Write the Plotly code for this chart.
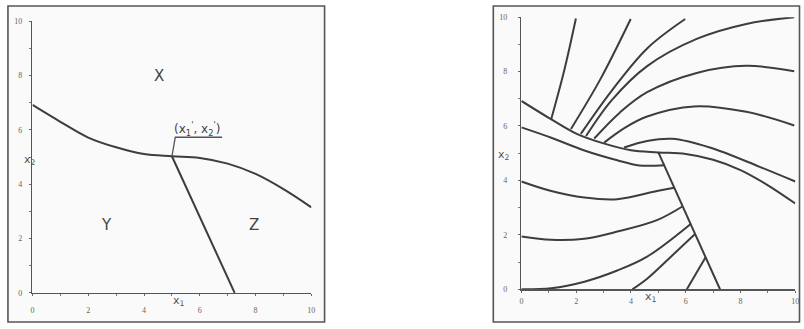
import plotly.graph_objects as go

# ---------------- data ----------------
# separating curve between region X and regions Y/Z
boundary_x = [0, 1, 2, 3, 4, 5, 6, 7, 8, 9, 10]
boundary_y = [6.92, 6.30, 5.72, 5.36, 5.11, 5.03, 4.97, 4.76, 4.38, 3.82, 3.15]
# boundary between Y and Z
zline_x = [5.0, 7.25]
zline_y = [5.03, 0.0]

# trajectories (right panel), region X
t1_x = [1.09, 1.57, 1.99];                    t1_y = [6.26, 8.07, 9.95]
t2_x = [1.81, 2.9, 3.99];                     t2_y = [5.89, 7.75, 9.93]
t3_x = [2.17, 3.3, 4.59, 5.98];               t3_y = [5.71, 7.3, 8.85, 9.93]
t4_x = [2.36, 3.3, 4.59, 6.4, 8.21, 9.96];    t4_y = [5.63, 6.95, 8.2, 9.2, 9.75, 10.0]
t5_x = [2.66, 3.6, 4.59, 6.4, 8.21, 9.96];    t5_y = [5.54, 6.5, 7.24, 7.95, 8.21, 8.01]
t6_x = [3.02, 3.8, 4.59, 6.3, 8.21, 9.96];    t6_y = [5.39, 5.95, 6.35, 6.72, 6.52, 6.02]
t7_x = [3.75, 4.59, 5.5, 6.88, 8.7, 10.0];    t7_y = [5.21, 5.45, 5.53, 5.21, 4.5, 3.96]
# trajectories (right panel), region Y
ta_x = [0, 1.09, 2.3, 3.5, 4.3, 5.22];        ta_y = [5.95, 5.57, 5.10, 4.74, 4.55, 4.56]
tb_x = [0, 1.09, 2.3, 3.5, 4.95, 5.58];       tb_y = [3.96, 3.61, 3.37, 3.31, 3.61, 3.73]
tc_x = [0, 1.09, 2.3, 3.5, 4.95, 5.89];       tc_y = [1.94, 1.82, 1.86, 2.12, 2.54, 3.05]
td_x = [0, 1.09, 2.3, 3.5, 4.59, 6.18];       td_y = [0.0, 0.04, 0.28, 0.69, 1.2, 2.4]
te_x = [4.05, 4.59, 5.43, 6.34];              te_y = [0.0, 0.39, 1.17, 2.03]
tf_x = [6.04, 6.73];                          tf_y = [0.0, 1.19]

tick_vals = [0, 2, 4, 6, 8, 10]
tick_text = ["0", "2", "4", "6", "8", "10"]
minor_tick_vals = [1, 3, 5, 7, 9]

region_labels = ["X", "Y", "Z"]
region_x = [4.54, 2.65, 7.95]
region_y = [7.97, 2.5, 2.5]

# ---------------- figure ----------------
W, H = 804, 329
LINE = "#3d3d3d"
fig = go.Figure()

def add_line(xs, ys, axis, shape="spline"):
    fig.add_trace(go.Scatter(
        x=xs, y=ys, mode="lines", xaxis="x" + axis, yaxis="y" + axis,
        line=dict(color=LINE, width=2, shape=shape, smoothing=1.0),
        cliponaxis=False, showlegend=False, hoverinfo="skip"))

for ax in ["", "2"]:
    add_line(boundary_x, boundary_y, ax)
    add_line(zline_x, zline_y, ax, shape="linear")

for xs, ys in [(t1_x, t1_y), (t2_x, t2_y), (t3_x, t3_y), (t4_x, t4_y),
               (t5_x, t5_y), (t6_x, t6_y), (t7_x, t7_y), (ta_x, ta_y),
               (tb_x, tb_y), (tc_x, tc_y), (td_x, td_y), (te_x, te_y),
               (tf_x, tf_y)]:
    add_line(xs, ys, "2")

# leader line for the annotation (left panel)
fig.add_trace(go.Scatter(
    x=[5.0, 5.12, 6.8], y=[5.03, 5.73, 5.73], mode="lines",
    line=dict(color="#555", width=1.3), cliponaxis=False,
    showlegend=False, hoverinfo="skip"))

def px(xp):
    return xp / W

def py(yp):
    return 1 - yp / H

axis_common = dict(
    range=[0, 10], tickmode="array", tickvals=tick_vals, ticktext=tick_text,
    showline=True, linecolor="#555", linewidth=1.5, mirror=False,
    ticks="outside", ticklen=2, tickcolor="#666", tickwidth=1,
    minor=dict(tickmode="array", tickvals=minor_tick_vals, ticks="outside",
               ticklen=2, tickcolor="#777", tickwidth=1, showgrid=False),
    showgrid=False, zeroline=False, fixedrange=True,
    tickfont=dict(family="Liberation Serif", size=8, color="#666"))

fig.update_layout(
    width=W, height=H, margin=dict(l=0, r=0, t=0, b=0),
    paper_bgcolor="white", plot_bgcolor="rgba(0,0,0,0)",
    xaxis=dict(domain=[px(30.7), px(311.7)], anchor="y", **axis_common),
    yaxis=dict(domain=[py(297.0), py(17.8)], anchor="x", **axis_common),
    xaxis2=dict(domain=[px(523.3), px(799.3)], anchor="y2", **axis_common),
    yaxis2=dict(domain=[py(293.3), py(13.5)], anchor="x2", **axis_common),
)
fig.update_layout(xaxis=dict(ticklabelstandoff=7),
                  xaxis2=dict(ticklabelstandoff=2),
                  yaxis=dict(ticklabelstandoff=5),
                  yaxis2=dict(ticklabelstandoff=9))

# panel frames
for (x0, y0, x1, y1) in [(6, 2, 325, 327), (495, 2, 803.5, 327)]:
    fig.add_shape(type="rect", xref="paper", yref="paper",
                  x0=px(x0), x1=px(x1), y0=py(y1), y1=py(y0),
                  line=dict(color="#555", width=1.6),
                  fillcolor="rgba(246,246,246,0.5)", layer="below")

# region labels
for t, xv, yv in zip(region_labels, region_x, region_y):
    fig.add_annotation(x=xv, y=yv, xref="x", yref="y", text=t,
                       showarrow=False,
                       font=dict(family="DejaVu Sans", size=15, color="#444"))

# point label
fig.add_annotation(x=5.93, y=6.05, xref="x", yref="y",
                   text="(x<sub>1</sub><sup>'</sup>, x<sub>2</sub><sup>'</sup>)",
                   showarrow=False,
                   font=dict(family="DejaVu Sans", size=12, color="#444"))

# axis titles (paper coordinates, outside plot areas)
title_font = dict(family="DejaVu Sans", size=11, color="#555")
for xp, yp in [(170, 315), (661.7, 311)]:
    fig.add_annotation(x=px(xp), y=py(yp), xref="paper", yref="paper",
                       text="x<sub>1</sub>", showarrow=False, font=title_font)
for xp, yp in [(20, 160), (506, 155)]:
    fig.add_annotation(x=px(xp), y=py(yp), xref="paper", yref="paper",
                       text="x<sub>2</sub>", showarrow=False, font=title_font)

fig.write_html("out.html",
               config={"displayModeBar": False, "staticPlot": True},
               post_script="document.body.style.margin='0';"
                           "document.body.style.overflow='hidden';")
